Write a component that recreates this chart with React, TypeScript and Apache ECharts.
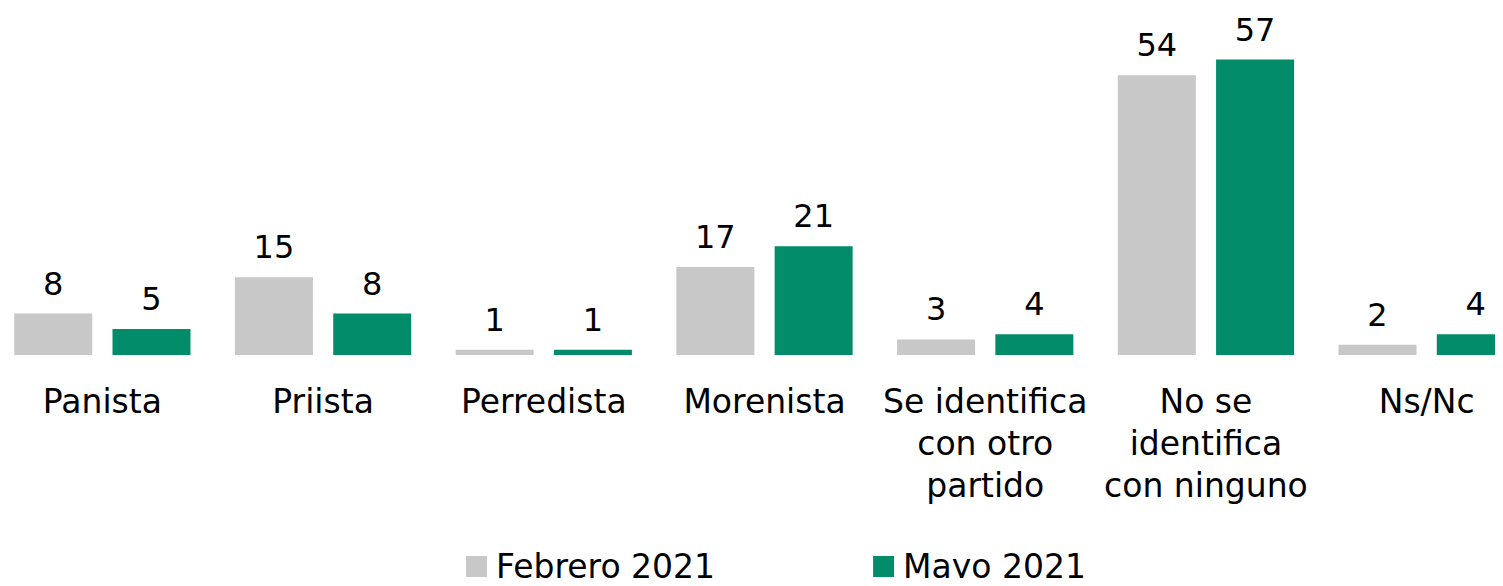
import React, { useEffect, useRef } from "react";
import * as echarts from "echarts";

const categories = [
  "Panista",
  "Priista",
  "Perredista",
  "Morenista",
  "Se identifica\ncon otro\npartido",
  "No se\nidentifica\ncon ninguno",
  "Ns/Nc",
];
const febrero2021 = [8, 15, 1, 17, 3, 54, 2];
const mayo2021 = [5, 8, 1, 21, 4, 57, 4];
const seriesNames = ["Febrero 2021", "Mayo 2021"];

const FONT = "DejaVu Sans";

export default function App() {
  const ref = useRef<HTMLDivElement>(null);
  useEffect(() => {
    if (!ref.current) return;
    const chart = echarts.init(ref.current, undefined, { renderer: "svg" });
    const labelStyle = {
      show: true,
      position: "top" as const,
      distance: 14,
      color: "#000",
      fontSize: 32,
      fontFamily: FONT,
    };
    chart.setOption({
      animation: false,
      textStyle: { fontFamily: FONT },
      grid: { left: 0, right: 0, top: 0, bottom: 231, containLabel: false },
      legend: {
        data: seriesNames,
        top: 550,
        left: 474,
        padding: 0,
        itemWidth: 21,
        itemHeight: 21,
        itemGap: 158,
        icon: "rect",
        textStyle: { fontSize: 33, color: "#000", fontFamily: FONT, padding: [0, 0, 0, 4] },
      },
      xAxis: {
        type: "category",
        data: categories,
        axisLine: { show: false },
        axisTick: { show: false },
        axisLabel: {
          interval: 0,
          margin: 25,
          fontSize: 33,
          lineHeight: 42,
          color: "#000",
          fontFamily: FONT,
        },
      },
      yAxis: {
        type: "value",
        min: 0,
        max: 68.5,
        show: false,
        splitLine: { show: false },
      },
      series: [
        {
          name: seriesNames[0],
          type: "bar",
          data: febrero2021,
          barWidth: 78,
          barGap: "26%",
          itemStyle: { color: "#C8C8C8" },
          label: labelStyle,
        },
        {
          name: seriesNames[1],
          type: "bar",
          data: mayo2021,
          barWidth: 78,
          barGap: "26%",
          itemStyle: { color: "#038C69" },
          label: labelStyle,
        },
      ],
    });
    return () => chart.dispose();
  }, []);
  return (
    <div style={{ width: 1503, height: 586, margin: -8, overflow: "hidden", position: "relative" }}>
      <div ref={ref} style={{ width: 1545, height: 586, position: "absolute", left: -8, top: 0 }} />
    </div>
  );
}
